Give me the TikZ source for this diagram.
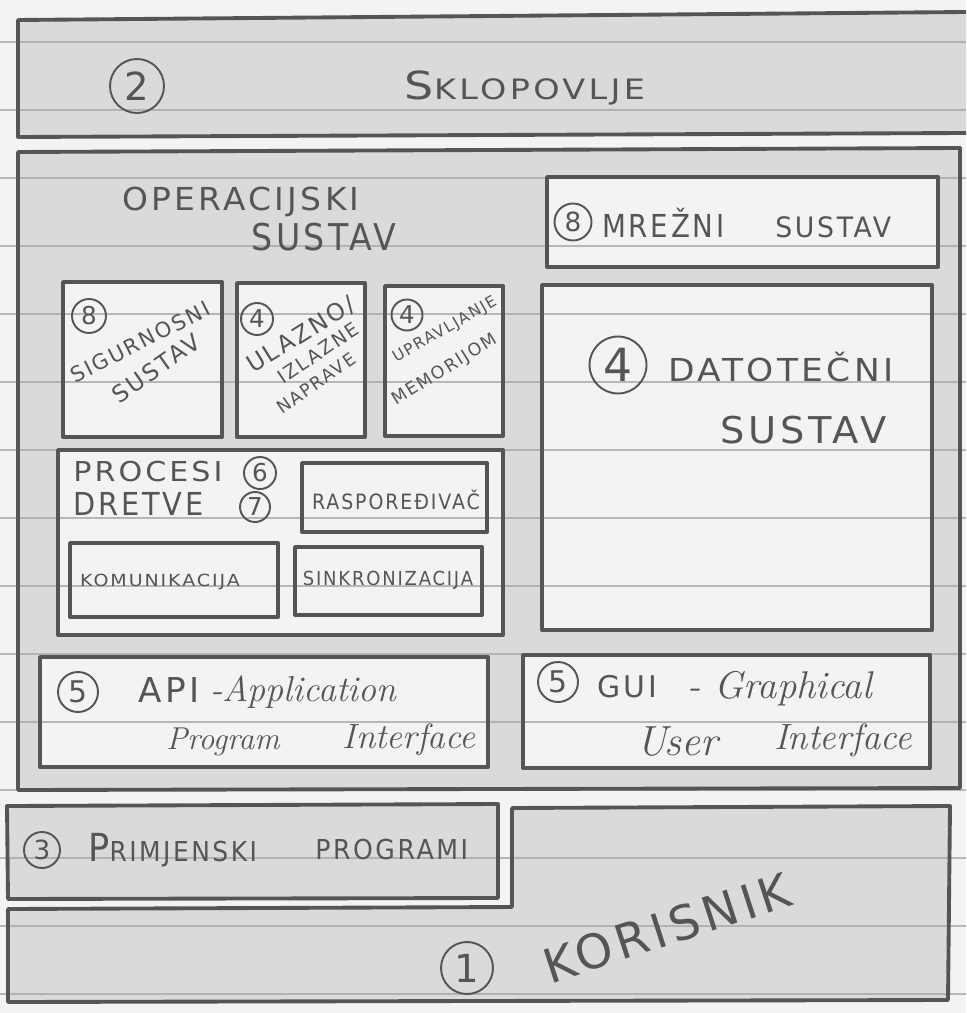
\documentclass[tikz,border=0pt]{standalone}
\usepackage{fontspec}
\usetikzlibrary{positioning}
\newfontfamily\handfam{DejaVu Sans}[LetterSpace=10]
\definecolor{pencil}{HTML}{555555}
\definecolor{shadegray}{HTML}{DADADA}
\definecolor{papergray}{HTML}{F3F3F3}
\definecolor{ruleline}{HTML}{A9A9A9}
\newcommand{\handfont}[1]{\handfam\fontsize{#1}{#1}\selectfont}
\newcommand{\cursive}[1]{\rmfamily\itshape\fontsize{#1}{#1}\selectfont}
\newcommand{\initcap}[2]{{\fontsize{#1}{#1}\selectfont #2}}

\begin{document}
\begin{tikzpicture}[x=0.02cm,y=-0.02cm,line join=round,line cap=round,
  frame/.style={draw=pencil,line width=2.2pt},
  shaded/.style={fill=shadegray},
  blank/.style={fill=papergray},
  hand/.style 2 args={text=pencil,inner sep=0pt,font=\handfont{#1},xscale=#2},
  script/.style={text=pencil,inner sep=0pt,font=\cursive{#1}},
  num/.style 2 args={circle,draw=pencil,line width=1.1pt,inner sep=0pt,
    minimum size=#1*0.02cm,text=pencil,font=\handfont{#2}}]
\useasboundingbox (0,0) rectangle (966,1013);
\begin{scope}
\clip (0,0) rectangle (966,1013);
% paper and pencil shading
\fill[papergray] (0,0) rectangle (966,1013);
\path[shaded] (18,20) -- (966,12) -- (966,133) -- (18,137) -- cycle;
\path[shaded] (18,152) -- (960,148) -- (960,788) -- (18,790) -- cycle;
\path[shaded] (7,806) -- (498,804) -- (498,898) -- (8,899) -- cycle;
\path[shaded] (512,808) -- (950,806) -- (948,1000) -- (8,1002) -- (8,909) -- (512,907) -- cycle;
\path[blank] (547,177) rectangle (938,267);
\path[blank] (542,285) rectangle (932,630);
\path[blank] (63,282) rectangle (222,437);
\path[blank] (237,283) rectangle (365,437);
\path[blank] (385,286) rectangle (503,436);
\path[blank] (58,450) rectangle (503,635);
\path[blank] (40,657) rectangle (488,767);
\path[blank] (523,655) rectangle (930,768);
% ruled lines of the page
\foreach \ly in {42,110,...,995}
  \draw[ruleline,line width=1pt,opacity=0.8] (0,\ly) -- (966,\ly);
% frames
\draw[frame] (966,12) -- (18,20) -- (18,137) -- (966,133);
\draw[frame] (18,152) -- (960,148) -- (960,788) -- (18,790) -- cycle;
\draw[frame] (547,177) rectangle (938,267);
\draw[frame] (542,285) rectangle (932,630);
\draw[frame] (63,282) rectangle (222,437);
\draw[frame] (237,283) rectangle (365,437);
\draw[frame] (385,286) rectangle (503,436);
\draw[frame] (58,450) rectangle (503,635);
\draw[frame] (302,463) rectangle (487,532);
\draw[frame] (70,543) rectangle (278,617);
\draw[frame] (295,547) rectangle (482,615);
\draw[frame] (40,657) rectangle (488,767);
\draw[frame] (523,655) rectangle (930,768);
\draw[frame] (7,806) -- (498,804) -- (498,898) -- (8,899) -- cycle;
\draw[frame] (512,808) -- (950,806) -- (948,1000) -- (8,1002) -- (8,909) -- (512,907) -- cycle;
\end{scope}
% hardware
\node[num={54}{22}] (n2) at (137,86) {2};
\node[hand={16}{1.19}] (sklop) at (525,88) {\initcap{22}{S}KLOPOVLJE};
% operating system
\node[hand={18}{1.04}] (os1) at (241,202) {OPERACIJSKI};
\node[hand={21}{0.9}] (os2) at (324,237) {SUSTAV};
\node[num={37}{15}] (n8a) at (573,222) {8};
\node[hand={18}{0.875},anchor=west] (mrez) at (602,223) {MREŽNI};
\node[hand={16}{0.95},anchor=west] (mrsus) at (775,227) {SUSTAV};
\node[num={57}{26}] (n4c) at (618,365) {4};
\node[hand={18}{1.09},anchor=west] (dat1) at (668,367) {DATOTEČNI};
\node[hand={21}{1.04},anchor=west] (dat2) at (720,430) {SUSTAV};
\node[num={34}{14}] (n8b) at (89,316) {8};
\node[hand={12}{1},rotate=27] (sig1) at (140,342) {SIGURNOSNI};
\node[hand={13.3}{1},rotate=35] (sig2) at (156,368) {SUSTAV};
\node[num={32}{14}] (n4a) at (257,319) {4};
\node[hand={13.5}{1},rotate=32] (ul1) at (301,335) {ULAZNO/};
\node[hand={10.8}{1},rotate=34] (ul2) at (318,353) {IZLAZNE};
\node[hand={10}{1},rotate=35] (ul3) at (316,383) {NAPRAVE};
\node[num={31}{14}] (n4b) at (407,315) {4};
\node[hand={8.9}{1},rotate=30] (up1) at (445,330) {UPRAVLJANJE};
\node[hand={9.9}{1},rotate=32] (up2) at (445,370) {MEMORIJOM};
% processes and threads
\node[hand={15.6}{1.1},anchor=west] (proc) at (73,472) {PROCESI};
\node[hand={18}{0.91},anchor=west] (dret) at (73,504) {DRETVE};
\node[num={32}{14}] (n6) at (260,473) {6};
\node[num={30}{14}] (n7) at (255,507) {7};
\node[hand={12}{0.9}] (rasp) at (396,500) {RASPOREĐIVAČ};
\node[hand={9.5}{1.14}] (komu) at (160,582) {KOMUNIKACIJA};
\node[hand={11}{0.93}] (sinkr) at (388,580) {SINKRONIZACIJA};
% interfaces
\node[num={40}{17}] (n5a) at (78,692) {5};
\node[hand={19.5}{1},anchor=west] (api) at (138,690) {API};
\node[script=20.5,anchor=west] (apiapp) at (210,692) {-Application};
\node[script=18] (apiprog) at (223,742) {Program};
\node[script=20] (apiint) at (409,740) {Interface};
\node[num={40}{17}] (n5b) at (558,682) {5};
\node[hand={17}{1},anchor=west] (gui) at (597,687) {GUI};
\node[script=22,anchor=west] (guigr) at (687,689) {- Graphical};
\node[script=24] (guius) at (677,742) {User};
\node[script=20.8] (guiint) at (843,740) {Interface};
% applications and user
\node[num={36}{15}] (n3) at (42,850) {3};
\node[hand={15.6}{0.91},anchor=west] (prim) at (88,850) {\initcap{22}{P}RIMJENSKI};
\node[hand={15.6}{0.92},anchor=west] (prog) at (315,850) {PROGRAMI};
\node[num={52}{22}] (n1) at (467,968) {1};
\node[hand={27}{1},rotate=18] (kor) at (667,928) {KORISNIK};
\end{tikzpicture}
\end{document}
